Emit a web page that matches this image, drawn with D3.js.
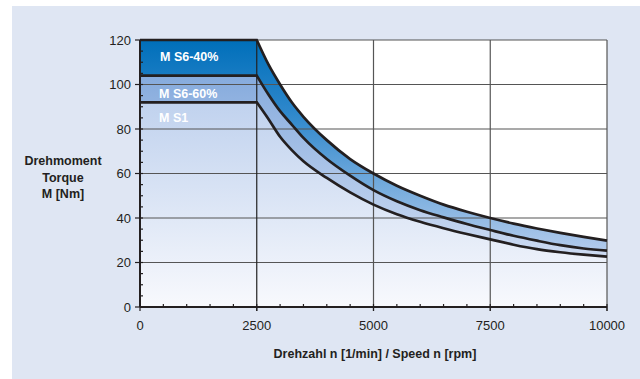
<!DOCTYPE html>
<html><head><meta charset="utf-8">
<script src="https://cdn.jsdelivr.net/npm/d3@7"></script>
<style>
html,body{margin:0;padding:0;background:#fff;}
svg{display:block;font-family:"Liberation Sans",Arial,sans-serif;}
</style></head>
<body><svg id="c" width="640" height="379"></svg>
<script>
const speed   = [0, 2500, 2750, 3000, 3250, 3500, 4000, 4500, 5000, 5500, 6000, 6500, 7000, 7500, 8000, 8500, 9000, 9500, 10000];
const mS6_40  = [120, 120, 109, 100, 92, 85.5, 75, 66.5, 60, 54.5, 50, 46, 42.8, 40, 37.5, 35.3, 33.3, 31.5, 29.8];
const mS6_60  = [104, 104, 95.5, 88, 82, 76, 66.5, 59, 52.5, 47.5, 43.5, 40.3, 37.3, 34.6, 32, 29.8, 27.8, 26.3, 25.3];
const mS1     = [92, 92, 84.5, 76.5, 70.5, 65.5, 58, 51.5, 46, 41.7, 38.3, 35.4, 32.8, 30.4, 28, 26, 24.6, 23.5, 22.6];
const seriesNames = ["M S6-40%", "M S6-60%", "M S1"];
const xTicks = [0, 2500, 5000, 7500, 10000];
const yTicks = [0, 20, 40, 60, 80, 100, 120];
const xTitle = "Drehzahl n [1/min] / Speed n [rpm]";
const yTitle = ["Drehmoment", "Torque", "M [Nm]"];

const svg = d3.select("#c");
const x = d3.scaleLinear().domain([0, 10000]).range([140, 607]);
const y = d3.scaleLinear().domain([0, 120]).range([307, 40]);

// panel background
svg.append("rect").attr("x", 12).attr("y", 6).attr("width", 628).attr("height", 373).attr("fill", "#dfe6f3");

const defs = svg.append("defs");
function grad(id, stops, y1, y2) {
  const g = defs.append("linearGradient").attr("id", id).attr("gradientUnits", "userSpaceOnUse")
    .attr("x1", 0).attr("x2", 0).attr("y1", y1).attr("y2", y2);
  stops.forEach(s => g.append("stop").attr("offset", s[0]).attr("stop-color", s[1]));
}
grad("g40", [[0, "#006fba"], [0.35, "#2f88cc"], [1, "#b3cbec"]], y(120), y(25));
grad("g60", [[0, "#86abdd"], [1, "#cddbf2"]], y(104), y(22));
grad("g1", [[0, "#c0d2ee"], [1, "#f8f9fd"]], y(92), y(0));

// plot area
svg.append("rect").attr("x", x(0)).attr("y", y(120)).attr("width", x(10000) - x(0)).attr("height", y(0) - y(120)).attr("fill", "#ffffff");

// constant-torque part (linear) + field-weakening part (smooth curve)
const idx = d3.range(speed.length);
const tail = idx.slice(1);
const curve = d3.curveMonotoneX;
function bandPath(top, bot) {
  const a = d3.area().curve(curve).x(i => x(speed[i])).y0(i => y(bot(i))).y1(i => y(top[i]))(tail);
  const r = d3.area().x(i => x(speed[i])).y0(i => y(bot(i))).y1(i => y(top[i]))([0, 1]);
  return r + a;
}
svg.append("path").attr("fill", "url(#g40)").attr("d", bandPath(mS6_40, i => mS6_60[i]));
svg.append("path").attr("fill", "url(#g60)").attr("d", bandPath(mS6_60, i => mS1[i]));
svg.append("path").attr("fill", "url(#g1)").attr("d", bandPath(mS1, i => 0));

// grid
const grid = svg.append("g");
yTicks.filter(v => v > 0).forEach(v => {
  grid.append("line").attr("x1", x(0)).attr("x2", x(10000)).attr("y1", y(v)).attr("y2", y(v))
    .attr("stroke", "#555").attr("stroke-width", 1.2);
});
xTicks.filter(v => v > 0).forEach(v => {
  grid.append("line").attr("x1", x(v)).attr("x2", x(v)).attr("y1", y(120)).attr("y2", y(0) + 4)
    .attr("stroke", v === 2500 ? "#222" : "#555").attr("stroke-width", 1.2);
});

// curves
function linePath(arr) {
  const c = d3.line().curve(curve).x(i => x(speed[i])).y(i => y(arr[i]))(tail);
  return "M" + x(speed[0]) + "," + y(arr[0]) + "L" + c.slice(1);
}
[mS6_40, mS6_60, mS1].forEach(arr => {
  svg.append("path").attr("fill", "none").attr("stroke", "#231f20").attr("stroke-width", 2.7)
    .attr("stroke-linejoin", "miter").attr("d", linePath(arr));
});

// axes
const ax = svg.append("g");
ax.append("line").attr("x1", x(0)).attr("x2", x(10000)).attr("y1", y(0)).attr("y2", y(0)).attr("stroke", "#231f20").attr("stroke-width", 2);
ax.append("line").attr("x1", x(0)).attr("x2", x(0)).attr("y1", y(0)).attr("y2", y(120)).attr("stroke", "#231f20").attr("stroke-width", 2);
d3.range(0, 10001, 500).forEach(v => {
  const major = v % 2500 === 0;
  ax.append("line").attr("x1", x(v)).attr("x2", x(v)).attr("y1", y(0) - 3).attr("y2", y(0) + (major ? 4 : 0))
    .attr("stroke", "#231f20").attr("stroke-width", 1.2);
});
d3.range(0, 121, 5).forEach(v => {
  const major = v % 20 === 0;
  ax.append("line").attr("x1", x(0) - (major ? 5 : 0)).attr("x2", x(0) + 3).attr("y1", y(v)).attr("y2", y(v))
    .attr("stroke", "#231f20").attr("stroke-width", 1.2);
});

const txt = "#231f20";
yTicks.forEach(v => {
  svg.append("text").attr("x", x(0) - 9).attr("y", y(v) + 4.5).attr("text-anchor", "end")
    .attr("font-size", 13).attr("fill", txt).text(v);
});
xTicks.forEach(v => {
  svg.append("text").attr("x", x(v)).attr("y", 330).attr("text-anchor", "middle")
    .attr("font-size", 13).attr("fill", txt).text(v);
});
svg.append("text").attr("x", 375).attr("y", 358).attr("text-anchor", "middle").attr("font-size", 12.5)
  .attr("font-weight", "bold").attr("fill", txt).text(xTitle);
yTitle.forEach((t, i) => {
  svg.append("text").attr("x", 63).attr("y", 165 + i * 16.5).attr("text-anchor", "middle").attr("font-size", 12.5)
    .attr("font-weight", "bold").attr("fill", txt).text(t);
});

// series labels
const labelY = [61, 98, 122];
seriesNames.forEach((t, i) => {
  svg.append("text").attr("x", i === 0 ? 160 : 159).attr("y", labelY[i]).attr("font-size", 12.5)
    .attr("font-weight", "bold").attr("fill", "#ffffff").text(t);
});
</script></body></html>
